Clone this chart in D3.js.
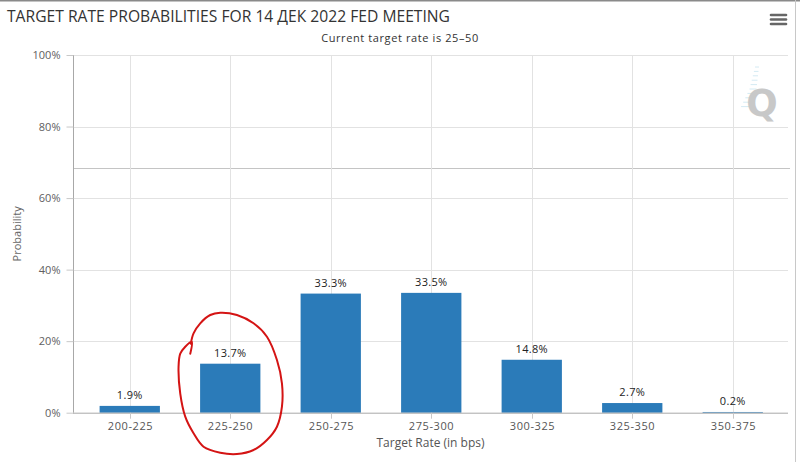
<!DOCTYPE html>
<html>
<head>
<meta charset="utf-8">
<script src="https://cdn.jsdelivr.net/npm/d3@7"></script>
<style>
  html, body { margin: 0; padding: 0; background: #ffffff; }
  svg { display: block; font-family: "Open Sans", "DejaVu Sans", sans-serif; }
</style>
</head>
<body>
<svg id="chart" width="800" height="462"></svg>
<script>

const categories = ['200-225', '225-250', '250-275', '275-300', '300-325', '325-350', '350-375'];
const probabilities = [1.9, 13.7, 33.3, 33.5, 14.8, 2.7, 0.2];
const yTicks = [0, 20, 40, 60, 80, 100];

const titleText = 'TARGET RATE PROBABILITIES FOR 14 ДЕК 2022 FED MEETING';
const subtitleText = 'Current target rate is 25\u201350';

// hand drawn ring around the 225-250 bar, offsets from bar base centre
const ringOffsets = [
  [-40, -59], [-38.5, -71], [-45, -66], [-50, -59], [-51.7, -46], [-50, -19],
  [-45, 4], [-36.7, 20.6], [-26.7, 34], [-10, 40], [6.7, 41.3], [23.3, 37.3],
  [36.7, 27.3], [46.7, 14], [51.7, -6], [51.7, -29.4], [46.7, -52.7],
  [36.7, -76], [23.3, -89.4], [6.7, -97.7], [-10, -100], [-20, -97.7],
  [-30, -89.4], [-36.7, -79.4], [-39.5, -69]
];

const plot = {left: 73, right: 788, top: 55, bottom: 412.7};

const svg = d3.select('#chart');

// frame
svg.append('line')
    .attr('x1', 0).attr('x2', 800).attr('y1', 0.5).attr('y2', 0.5)
    .attr('stroke', '#8a8a8a').attr('stroke-width', 2);
svg.append('line')
    .attr('x1', 795.5).attr('x2', 795.5).attr('y1', 0).attr('y2', 462)
    .attr('stroke', '#c8c8c8').attr('stroke-width', 1);

const x = d3.scaleBand()
    .domain(categories)
    .range([79.5, 783])
    .paddingInner(0.4)
    .paddingOuter(0.2);

const y = d3.scaleLinear()
    .domain([0, 100])
    .range([plot.bottom, plot.top]);

const center = d => x(d) + x.bandwidth() / 2;

// horizontal grid
svg.append('g')
    .attr('class', 'y-grid')
  .selectAll('line')
  .data(yTicks.filter(t => t > 0))
  .enter().append('line')
    .attr('x1', plot.left).attr('x2', plot.right)
    .attr('y1', d => Math.round(y(d)) + 0.5)
    .attr('y2', d => Math.round(y(d)) + 0.5)
    .attr('stroke', '#e2e2e2');

// stray line seen in the screenshot
svg.append('line')
    .attr('x1', plot.left).attr('x2', 790)
    .attr('y1', 168.5).attr('y2', 168.5)
    .attr('stroke', '#c4c4c4');

// vertical grid at category centres
svg.append('g')
    .attr('class', 'x-grid')
  .selectAll('line')
  .data(categories)
  .enter().append('line')
    .attr('x1', d => Math.round(center(d)) + 0.5)
    .attr('x2', d => Math.round(center(d)) + 0.5)
    .attr('y1', plot.top).attr('y2', plot.bottom)
    .attr('stroke', '#e2e2e2');

// watermark
const logo = svg.append('g').attr('class', 'logo');
[0, 1, 2, 3, 4, 5, 6, 7, 8, 9].forEach(i => {
  logo.append('line')
      .attr('x1', 755 - i * 1.1 - (i > 5 ? (i - 5) * 1.0 : 0)).attr('x2', 759 - i * 0.5)
      .attr('y1', 67 + i * 4.4).attr('y2', 67 + i * 4.4)
      .attr('stroke', '#d4eaf3').attr('stroke-width', 1);
});
logo.append('text')
    .attr('x', 762).attr('y', 116)
    .attr('text-anchor', 'middle')
    .attr('font-family', 'DejaVu Sans, sans-serif')
    .attr('font-weight', 'bold')
    .attr('font-size', 37)
    .attr('fill', '#c8c8c8')
    .text('Q');

// y axis
const yAxis = svg.append('g')
    .attr('transform', `translate(${plot.left + 0.5},0)`)
    .call(d3.axisLeft(y).tickValues(yTicks).tickSize(7).tickPadding(6).tickFormat(d => d + '%'));
yAxis.select('.domain').attr('stroke', '#a8a8a8').attr('d', `M0,${plot.top}V${plot.bottom}`);
yAxis.selectAll('.tick line').attr('stroke', '#c8c8c8');
yAxis.selectAll('.tick text')
    .attr('font-family', '"Open Sans", sans-serif')
    .attr('font-size', 11)
    .attr('fill', '#606060');

// bars
svg.append('g')
    .attr('class', 'bars')
  .selectAll('rect')
  .data(probabilities)
  .enter().append('rect')
    .attr('x', (d, i) => x(categories[i]))
    .attr('y', d => y(d))
    .attr('width', x.bandwidth())
    .attr('height', d => y(0) - y(d))
    .attr('fill', '#2b7bb9');

// data labels
svg.append('g')
    .attr('class', 'labels')
  .selectAll('text')
  .data(probabilities)
  .enter().append('text')
    .attr('x', (d, i) => center(categories[i]))
    .attr('y', d => y(d) - 7)
    .attr('text-anchor', 'middle')
    .attr('font-size', 11)
    .attr('letter-spacing', 0.3)
    .attr('fill', '#222')
    .text(d => d + '%');

// x axis
const xAxis = svg.append('g')
    .attr('transform', `translate(0,${plot.bottom})`)
    .call(d3.axisBottom(x).tickSize(6).tickPadding(4));
xAxis.select('.domain').attr('stroke', '#a8a8a8').attr('d', `M${plot.left},0.5H${plot.right}`);
xAxis.selectAll('.tick').attr('transform', d => `translate(${Math.round(center(d)) + 0.5},0)`);
xAxis.selectAll('.tick line').attr('stroke', '#c8c8c8');
xAxis.selectAll('.tick text')
    .attr('font-family', '"Open Sans", sans-serif')
    .attr('font-size', 11)
    .attr('letter-spacing', 0.6)
    .attr('fill', '#555');

// axis titles
svg.append('text')
    .attr('x', (plot.left + plot.right) / 2)
    .attr('y', 447)
    .attr('text-anchor', 'middle')
    .attr('font-size', 12)
    .attr('fill', '#555')
    .text('Target Rate (in bps)');

svg.append('text')
    .attr('transform', `translate(21,${(plot.top + plot.bottom) / 2}) rotate(-90)`)
    .attr('text-anchor', 'middle')
    .attr('font-size', 11)
    .attr('fill', '#666')
    .text('Probability');

// titles
svg.append('text')
    .attr('x', 7)
    .attr('y', 22)
    .attr('font-size', 17)
    .attr('textLength', 443)
    .attr('lengthAdjust', 'spacingAndGlyphs')
    .attr('fill', '#333')
    .text(titleText);

svg.append('text')
    .attr('x', 400)
    .attr('y', 42)
    .attr('text-anchor', 'middle')
    .attr('font-size', 11)
    .attr('letter-spacing', 0.6)
    .attr('fill', '#333')
    .text(subtitleText);

// menu button
svg.append('g')
    .attr('class', 'menu')
  .selectAll('line')
  .data([15, 19.5, 24])
  .enter().append('line')
    .attr('x1', 771).attr('x2', 786)
    .attr('y1', d => d).attr('y2', d => d)
    .attr('stroke', '#666').attr('stroke-width', 2.6)
    .attr('stroke-linecap', 'round');

// red ring annotation
const cx = center('225-250');
const ringLine = d3.line()
    .x(d => cx + d[0])
    .y(d => y(0) + d[1])
    .curve(d3.curveCatmullRom.alpha(0.5));
svg.append('path')
    .attr('d', ringLine(ringOffsets))
    .attr('fill', 'none')
    .attr('stroke', '#d41414')
    .attr('stroke-width', 2)
    .attr('stroke-linecap', 'round')
    .attr('stroke-linejoin', 'round');

</script>
</body>
</html>
